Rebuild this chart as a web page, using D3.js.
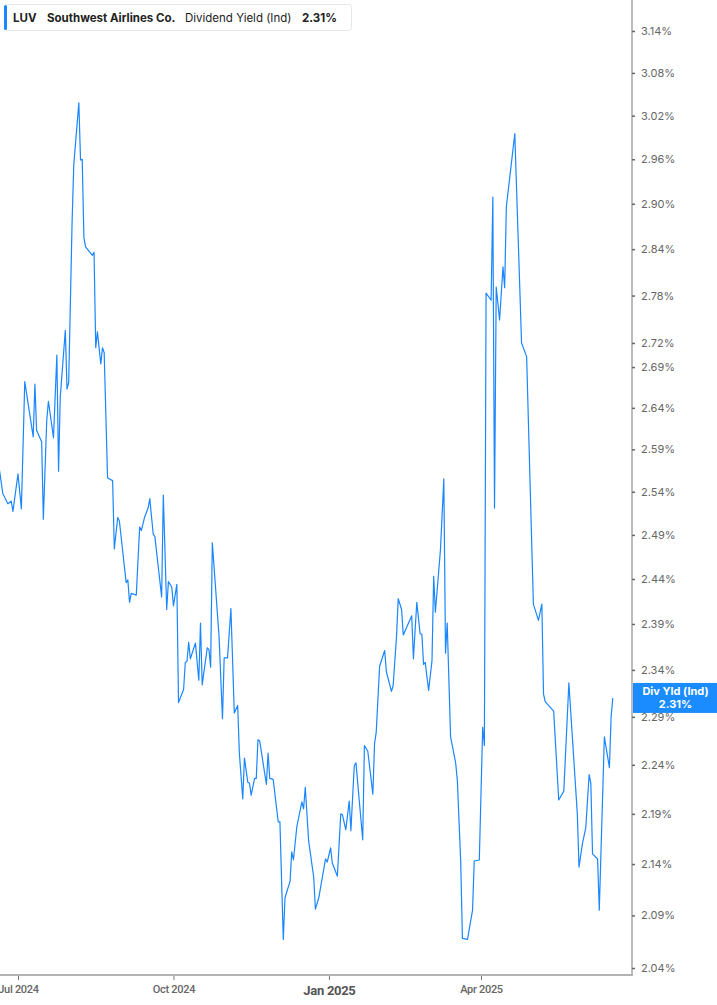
<!DOCTYPE html>
<html>
<head>
<meta charset="utf-8">
<script src="https://cdn.jsdelivr.net/npm/d3@7/dist/d3.min.js"></script>
<style>
  html, body { margin: 0; padding: 0; background: #fff; }
  svg { display: block; font-family: Inter, "Noto Sans", sans-serif; }
</style>
</head>
<body>
<svg id="chart" width="717" height="1005"></svg>
<script>
// ---- data ----
const dates = [
  "2024-06-20","2024-06-22","2024-06-25","2024-06-27","2024-06-28","2024-07-01","2024-07-03","2024-07-05",
  "2024-07-10","2024-07-11","2024-07-12","2024-07-15","2024-07-16","2024-07-18","2024-07-19","2024-07-22",
  "2024-07-24","2024-07-25","2024-07-26","2024-07-29","2024-07-30","2024-07-31","2024-08-02","2024-08-03",
  "2024-08-06","2024-08-07","2024-08-08","2024-08-09","2024-08-10","2024-08-14","2024-08-15","2024-08-16",
  "2024-08-17","2024-08-19","2024-08-20","2024-08-21","2024-08-23","2024-08-26","2024-08-27","2024-08-29",
  "2024-08-30","2024-09-03","2024-09-04","2024-09-05","2024-09-06","2024-09-09","2024-09-11","2024-09-12",
  "2024-09-14","2024-09-16","2024-09-17","2024-09-19","2024-09-20","2024-09-24","2024-09-25","2024-09-27",
  "2024-09-28","2024-09-30","2024-10-01","2024-10-03","2024-10-04","2024-10-07","2024-10-08","2024-10-09",
  "2024-10-10","2024-10-11","2024-10-14","2024-10-16","2024-10-17","2024-10-18","2024-10-21","2024-10-22",
  "2024-10-23","2024-10-24","2024-10-28","2024-10-30","2024-10-31","2024-11-02","2024-11-04","2024-11-06",
  "2024-11-08","2024-11-09","2024-11-11","2024-11-12","2024-11-14","2024-11-15","2024-11-16","2024-11-18",
  "2024-11-19","2024-11-20","2024-11-21","2024-11-25","2024-11-26","2024-11-27","2024-11-29","2024-12-02",
  "2024-12-03","2024-12-05","2024-12-06","2024-12-09","2024-12-10","2024-12-11","2024-12-13","2024-12-16",
  "2024-12-17","2024-12-18","2024-12-20","2024-12-23","2024-12-24","2024-12-26","2024-12-30","2024-12-31",
  "2025-01-02","2025-01-03","2025-01-06","2025-01-08","2025-01-09","2025-01-11","2025-01-13","2025-01-14",
  "2025-01-16","2025-01-17","2025-01-21","2025-01-22","2025-01-24","2025-01-27","2025-01-28","2025-01-29",
  "2025-01-31","2025-02-03","2025-02-04","2025-02-07","2025-02-08","2025-02-10","2025-02-11","2025-02-13",
  "2025-02-14","2025-02-19","2025-02-20","2025-02-22","2025-02-24","2025-02-25","2025-02-26","2025-02-27",
  "2025-03-01","2025-03-03","2025-03-04","2025-03-05","2025-03-08","2025-03-10","2025-03-11","2025-03-12",
  "2025-03-14","2025-03-17","2025-03-18","2025-03-20","2025-03-21","2025-03-24","2025-03-27","2025-03-28",
  "2025-03-31","2025-04-02","2025-04-03","2025-04-04","2025-04-07","2025-04-08","2025-04-09","2025-04-10",
  "2025-04-12","2025-04-14","2025-04-15","2025-04-16","2025-04-21","2025-04-25","2025-04-28","2025-05-02",
  "2025-05-05","2025-05-07","2025-05-08","2025-05-09","2025-05-14","2025-05-17","2025-05-20","2025-05-23",
  "2025-05-28","2025-05-29","2025-05-31","2025-06-02","2025-06-04","2025-06-05","2025-06-06","2025-06-09",
  "2025-06-10","2025-06-13","2025-06-16","2025-06-17","2025-06-18"
];
const yieldPct = [
  2.566,2.538,2.526,2.529,2.517,2.561,2.520,2.672,
  2.605,2.669,2.613,2.599,2.508,2.625,2.648,2.604,
  2.705,2.564,2.653,2.736,2.663,2.671,2.875,2.952,
  3.038,2.959,2.960,2.855,2.843,2.832,2.836,2.714,
  2.734,2.694,2.714,2.708,2.556,2.553,2.474,2.510,
  2.506,2.436,2.439,2.414,2.424,2.422,2.499,2.495,
  2.511,2.521,2.532,2.491,2.488,2.420,2.536,2.406,
  2.437,2.431,2.410,2.434,2.305,2.319,2.348,2.349,
  2.370,2.352,2.369,2.329,2.391,2.324,2.364,2.362,
  2.343,2.481,2.376,2.288,2.353,2.353,2.407,2.294,
  2.302,2.252,2.205,2.247,2.222,2.221,2.209,2.226,
  2.226,2.266,2.265,2.220,2.252,2.226,2.225,2.182,
  2.182,2.067,2.107,2.123,2.152,2.144,2.177,2.202,
  2.195,2.217,2.163,2.127,2.096,2.107,2.145,2.142,
  2.156,2.141,2.128,2.190,2.189,2.174,2.203,2.173,
  2.239,2.242,2.164,2.260,2.254,2.210,2.262,2.274,
  2.344,2.361,2.338,2.317,2.323,2.376,2.418,2.406,
  2.378,2.399,2.352,2.414,2.379,2.379,2.346,2.348,
  2.318,2.350,2.443,2.403,2.473,2.555,2.358,2.391,
  2.269,2.242,2.224,2.142,2.068,2.067,2.095,2.143,
  2.144,2.279,2.260,2.783,2.774,2.909,2.521,2.791,
  2.749,2.817,2.790,2.896,2.995,2.720,2.703,2.412,
  2.394,2.412,2.314,2.306,2.296,2.204,2.213,2.326,
  2.190,2.137,2.160,2.176,2.230,2.221,2.150,2.145,
  2.095,2.269,2.237,2.290,2.310
];
const yTicks = [3.14,3.08,3.02,2.96,2.90,2.84,2.78,2.72,2.69,2.64,2.59,2.54,2.49,2.44,2.39,2.34,2.29,2.24,2.19,2.14,2.09,2.04];
const xTickDates = ["2024-07-01","2024-10-01","2025-01-01","2025-04-01"];
const xTickLabels = ["Jul 2024","Oct 2024","Jan 2025","Apr 2025"];
const ticker = "LUV";
const company = "Southwest Airlines Co.";
const metric = "Dividend Yield (Ind)";
const lastLabel = "Div Yld (Ind)";
const lastValue = 2.31;

// ---- chart ----
const W = 717, H = 1005;
const plotRight = 632, plotBottom = 975;
const parse = d3.utcParse("%Y-%m-%d");
const data = dates.map((d, i) => ({ date: parse(d), v: yieldPct[i] }));

const x = d3.scaleUtc()
  .domain([parse("2024-07-01"), parse("2025-04-01")])
  .range([18, 481]);
const y = d3.scaleLog()
  .domain([2.04, 3.14])
  .range([968, 31]);

const svg = d3.select("#chart");

svg.append("defs").append("clipPath").attr("id", "plotclip")
  .append("rect").attr("x", 0).attr("y", 0).attr("width", plotRight).attr("height", plotBottom);

// line
const line = d3.line().x(d => x(d.date)).y(d => y(d.v));
svg.append("path")
  .datum(data)
  .attr("clip-path", "url(#plotclip)")
  .attr("fill", "none")
  .attr("stroke", "#1a86ff")
  .attr("stroke-width", 1.2)
  .attr("stroke-linejoin", "round")
  .attr("d", line);

// bottom axis
const xAxis = d3.axisBottom(x)
  .tickValues(xTickDates.map(parse))
  .tickSize(5)
  .tickFormat((d, i) => xTickLabels[i]);
const gx = svg.append("g").attr("transform", `translate(0,${plotBottom})`).call(xAxis);
gx.select(".domain").remove();
gx.insert("line", ":first-child").attr("x1", 0).attr("x2", plotRight + 1).attr("y1", 0).attr("y2", 0)
  .attr("stroke", "#b3b3b3").attr("stroke-width", 2);
gx.selectAll(".tick line").attr("stroke", "#777").attr("stroke-width", 1).attr("y1", 1);
gx.selectAll(".tick text")
  .attr("y", 10)
  .attr("fill", "#666")
  .style("font-family", "Roboto, Inter, sans-serif")
  .style("font-size", "11px")
  .style("font-weight", "500")
  .style("letter-spacing", "-0.3px");
gx.selectAll(".tick text").filter((d, i) => xTickLabels[i].startsWith("Jan"))
  .attr("y", 11)
  .attr("fill", "#555")
  .style("font-size", "13px")
  .style("font-weight", "700");

// right axis
const yAxis = d3.axisRight(y)
  .tickValues(yTicks)
  .tickSize(3)
  .tickFormat(d => d.toFixed(2) + "%");
const gy = svg.append("g").attr("transform", `translate(${plotRight},0)`).call(yAxis);
gy.select(".domain").remove();
gy.insert("line", ":first-child").attr("x1", 0).attr("x2", 0).attr("y1", 0).attr("y2", plotBottom)
  .attr("stroke", "#a6a6a6").attr("stroke-width", 1.5);
gy.selectAll(".tick line").attr("stroke", "#666").attr("stroke-width", 1.5);
gy.selectAll(".tick text")
  .attr("x", 9)
  .attr("fill", "#666")
  .style("font-family", "Inter, sans-serif")
  .style("font-size", "11px");

// last value label
const ly = y(lastValue);
const lg = svg.append("g");
lg.append("rect").attr("x", plotRight + 1).attr("y", ly - 15).attr("width", W - plotRight - 1).attr("height", 30)
  .attr("fill", "#1a8cff");
lg.append("text").attr("x", (plotRight + W) / 2 + 1).attr("y", ly - 3)
  .attr("text-anchor", "middle").attr("fill", "#fff")
  .style("font-size", "11px").style("font-weight", "700").text(lastLabel);
lg.append("text").attr("x", (plotRight + W) / 2 + 1).attr("y", ly + 10)
  .attr("text-anchor", "middle").attr("fill", "#fff")
  .style("font-size", "11px").style("font-weight", "700").text(lastValue.toFixed(2) + "%");

// legend box
const leg = svg.append("g");
leg.append("rect").attr("x", 4.5).attr("y", 4.5).attr("width", 347).attr("height", 26).attr("rx", 3)
  .attr("fill", "#fff").attr("stroke", "#e6e6e6");
leg.append("rect").attr("x", 4).attr("y", 5).attr("width", 3).attr("height", 25).attr("rx", 1.5)
  .attr("fill", "#1a86ff");
const lt = leg.append("text").attr("x", 13).attr("y", 21.5).attr("fill", "#222")
  .style("font-size", "11.5px");
lt.append("tspan").style("font-weight", "700").text(ticker);
lt.append("tspan").attr("x", 47).style("font-weight", "700").text(company);
lt.append("tspan").attr("x", 185).style("font-weight", "400").text(metric);
lt.append("tspan").attr("x", 302).style("font-weight", "700").text(lastValue.toFixed(2) + "%");
</script>
</body>
</html>
